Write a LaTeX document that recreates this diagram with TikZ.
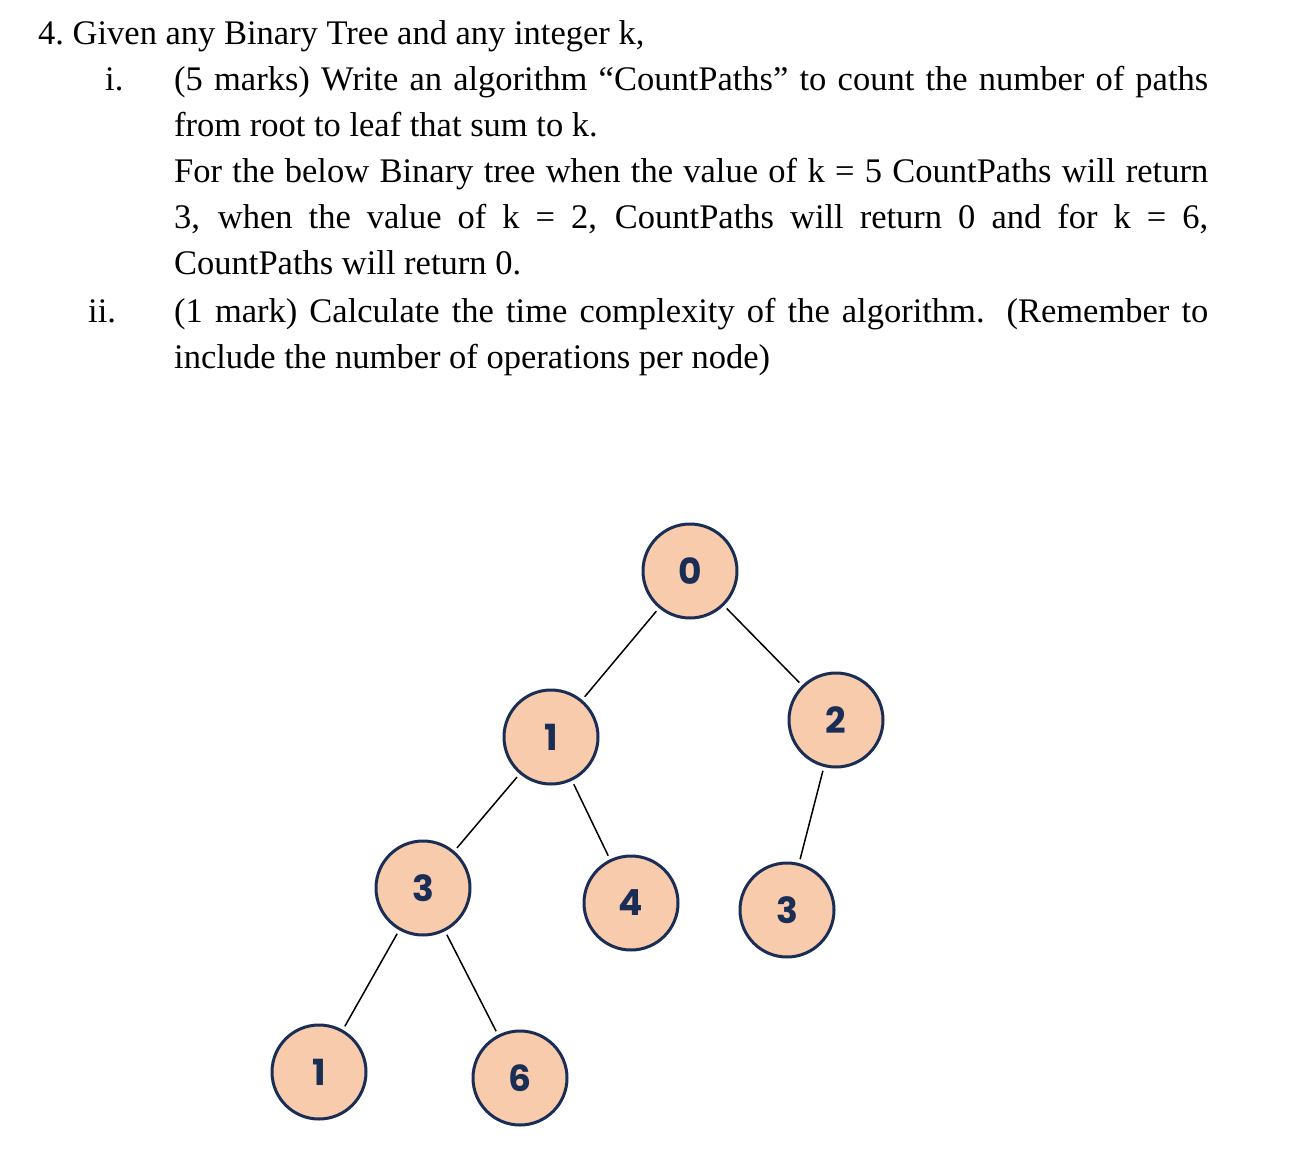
\documentclass[tikz,border=0pt]{standalone}
\usepackage{fontspec}
\setmainfont{Liberation Serif}
\newfontfamily\numfont{Poppins}
\begin{document}
\begin{tikzpicture}[x=1pt,y=-1pt,
  tn/.style={circle,draw=navy,line width=3pt,fill=peach,minimum size=94pt,inner sep=0pt,font=\numfont\bfseries\fontsize{36}{36}\selectfont,text=navy},
  tx/.style={anchor=base west,inner sep=0pt,font=\fontsize{34.5}{40}\selectfont},
  ed/.style={black,line width=1.5pt,shorten <=4pt,shorten >=4pt}]
\definecolor{navy}{HTML}{1A2E55}
\definecolor{peach}{HTML}{F7CBAC}
\useasboundingbox (0,0) rectangle (1298,1158);
\node[tx] (l1) at (38,45) {4.\ Given any Binary Tree and any integer k,};
\node[tx] (n1) at (105,91) {i.};
\node[tx] (l2) at (174,91) {\makebox[1034pt][s]{(5 marks) Write an algorithm “CountPaths” to count the number of paths}};
\node[tx] (l3) at (174,137) {from root to leaf that sum to k.};
\node[tx] (l4) at (174,183) {\makebox[1034pt][s]{For the below Binary tree when the value of k = 5 CountPaths will return}};
\node[tx] (l5) at (174,229) {\makebox[1034pt][s]{3, when the value of k = 2, CountPaths will return 0 and for k = 6,}};
\node[tx] (l6) at (174,275) {CountPaths will return 0.};
\node[tx] (n2) at (88,322) {ii.};
\node[tx] (l7) at (174,322) {\makebox[1034pt][s]{(1 mark) Calculate the time complexity of the algorithm. (Remember to}};
\node[tx] (l8) at (174,368) {include the number of operations per node)};
\node[tn] (a) at (690,571) {0};
\node[tn] (b) at (551,737) {1};
\node[tn] (c) at (836,720) {2};
\node[tn] (d) at (423,888) {3};
\node[tn] (e) at (631,903) {4};
\node[tn] (f) at (787,910) {3};
\node[tn] (g) at (319,1072) {1};
\node[tn] (h) at (520,1078) {6};
\draw[ed] (a) -- (b);
\draw[ed] (a) -- (c);
\draw[ed] (b) -- (d);
\draw[ed] (b) -- (e);
\draw[ed] (c) -- (f);
\draw[ed] (d) -- (g);
\draw[ed] (d) -- (h);
\end{tikzpicture}
\end{document}
